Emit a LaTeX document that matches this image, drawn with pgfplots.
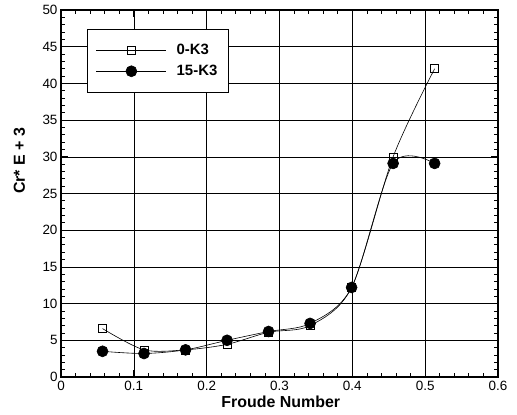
\documentclass[border=0pt]{standalone}
\usepackage{fontspec}
\setmainfont{Liberation Sans}
\usepackage{pgfplots}
\pgfplotsset{compat=1.18}
\begin{document}
\begin{tikzpicture}
\useasboundingbox (-61bp,-38bp) rectangle (456bp,377bp);
\begin{axis}[
  at={(0,0)}, anchor=south west,
  width=437bp, height=367bp, scale only axis,
  xmin=0, xmax=0.6, ymin=0, ymax=50,
  xtick={0,0.1,0.2,0.3,0.4,0.5,0.6},
  ytick={0,5,10,15,20,25,30,35,40,45,50},
  minor x tick num=4, minor y tick num=4,
  tick align=inside, xtick pos=both, ytick pos=both,
  major tick length=7bp, minor tick length=4bp,
  tick style={black, line width=0.8pt},
  grid=major, major grid style={black, line width=0.5pt},
  axis line style={black, line width=1.3pt},
  /pgf/number format/assume math mode=true,
  tick label style={font=\fontsize{13.5}{13.5}\selectfont},
  xticklabel style={yshift=-1bp},
  label style={font=\fontsize{16}{16}\selectfont\bfseries},
  xlabel={Froude Number},
  ylabel={Cr* E + 3},
  xlabel style={at={(axis description cs:0.503,-0.068)}, anchor=center},
  ylabel style={at={(axis description cs:-0.095,0.589)}, anchor=center},
  legend style={at={(axis description cs:0.059,0.948)}, anchor=north west,
    draw=black, line width=0.6pt, fill=white,
    font=\fontsize{15}{15}\selectfont\bfseries,
    inner xsep=9bp, inner ysep=13bp, row sep=5bp},
  legend cell align=left,
  legend image code/.code={%
    \draw[mark repeat=2, mark phase=2, line width=0.6pt] plot coordinates {(0bp,0bp) (35bp,0bp) (70bp,0bp)};
    \path (78bp,0bp);},
]
\addplot[black, line width=0.6pt, smooth, mark=square, mark size=4bp, mark options={solid, fill=white, line width=0.6pt}]
  coordinates {(0.057,6.6) (0.114,3.7) (0.171,3.7) (0.228,4.45) (0.285,6.1) (0.342,7.0) (0.399,12.2) (0.456,30.0) (0.513,42.0)};
\addlegendentry{0-K3}
\addplot[black, line width=0.6pt, smooth, mark=*, mark size=5.5bp, mark options={solid, fill=black}]
  coordinates {(0.057,3.5) (0.114,3.2) (0.171,3.7) (0.228,5.0) (0.285,6.2) (0.342,7.3) (0.399,12.2) (0.456,29.1) (0.513,29.1)};
\addlegendentry{15-K3}
\end{axis}
\end{tikzpicture}
\end{document}
